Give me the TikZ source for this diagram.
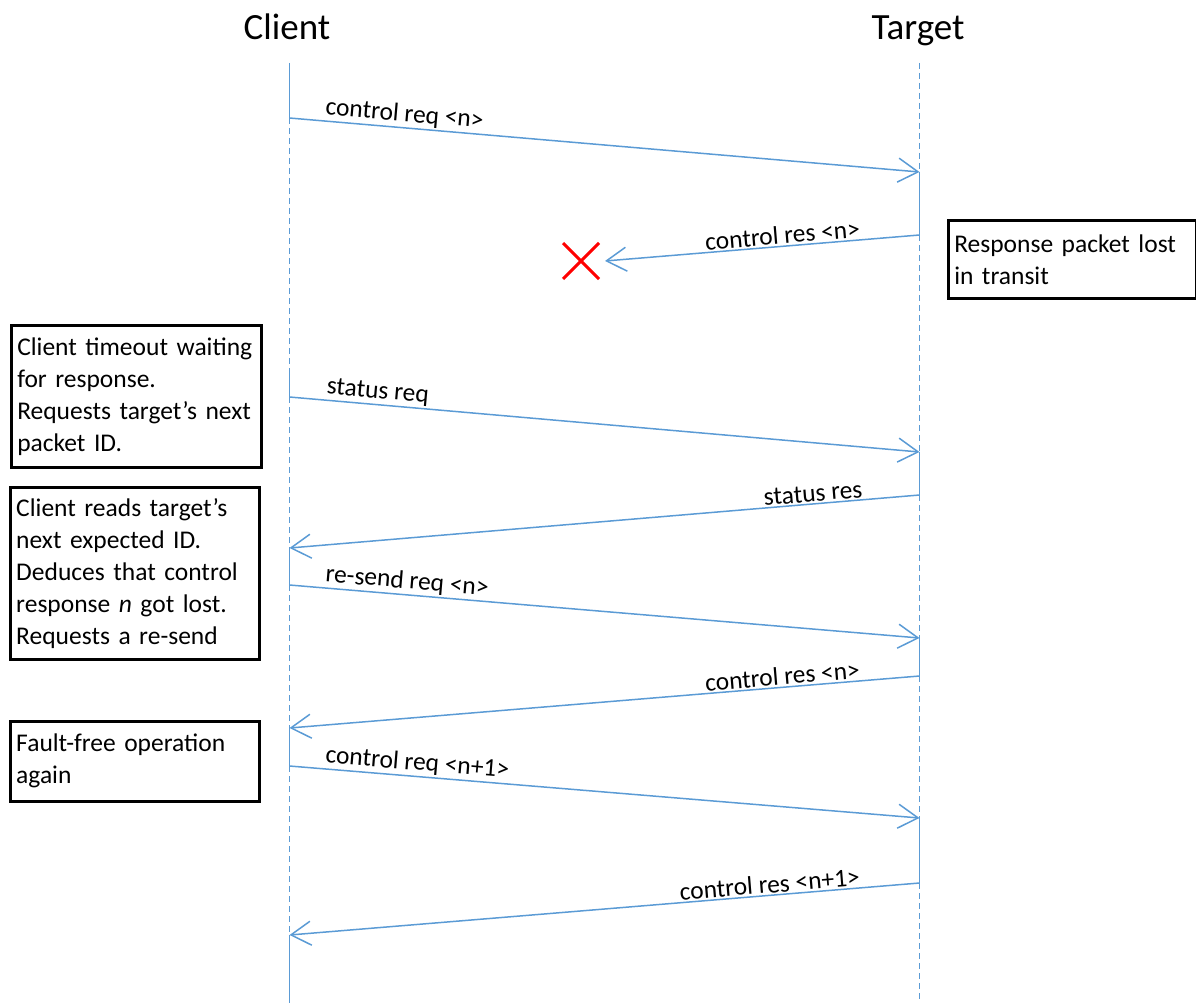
\documentclass[tikz,border=0pt]{standalone}
\usepackage{fontspec}
\setmainfont{Carlito}
\usetikzlibrary{arrows.meta}
\definecolor{lifeblue}{RGB}{91,155,213}
\begin{document}
\begin{tikzpicture}[x=1pt,y=-1pt,
  life/.style={lifeblue, line width=1.5pt},
  lifedash/.style={lifeblue, line width=1.8pt, dash pattern=on 6pt off 4pt},
  msg/.style={lifeblue, line width=1.5pt, -{Straight Barb[length=20pt,width=24pt]}},
  lbl/.style={sloped, inner sep=1.5pt, font=\fontsize{25.5}{30}\selectfont, text=black},
  note/.style={draw=black, line width=2.5pt, align=left, inner xsep=6pt, inner ysep=0pt,
    font=\fontsize{25.5}{32}\selectfont, anchor=north west},
  head/.style={font=\fontsize{37}{44}\selectfont, anchor=base}]
\useasboundingbox (0,0) rectangle (1196,1003);

% headers
\node[head] (client) at (287,40) {Client};
\node[head] (target) at (918,40) {Target};

% lifeline points: client
\coordinate (c0) at (289.5,63);
\coordinate (c1) at (289.5,118);
\coordinate (ca) at (289.5,373);
\coordinate (c3) at (289.5,397);
\coordinate (c4) at (289.5,548);
\coordinate (c5) at (289.5,585);
\coordinate (c6) at (289.5,728);
\coordinate (c7) at (289.5,766);
\coordinate (c8) at (289.5,935);
\coordinate (cend) at (289.5,1003);
% target
\coordinate (t0) at (919.5,63);
\coordinate (t1) at (919.5,172);
\coordinate (t2) at (919.5,235);
\coordinate (t3) at (919.5,452);
\coordinate (t4) at (919.5,495);
\coordinate (t5) at (919.5,638);
\coordinate (t6) at (919.5,676);
\coordinate (t7) at (919.5,818);
\coordinate (t8) at (919.5,883);
\coordinate (tend) at (919.5,1003);
\coordinate (lost) at (605,261);

% client lifeline
\draw[life] (c0) -- (c1);
\draw[lifedash] (c1) -- (ca);
\draw[life] (ca) -- (c3);
\draw[lifedash] (c3) -- (c4);
\draw[life] (c4) -- (c5);
\draw[lifedash] (c5) -- (c6);
\draw[life] (c6) -- (c7);
\draw[lifedash] (c7) -- (c8);
\draw[life] (c8) -- (cend);
% target lifeline
\draw[lifedash] (t0) -- (t1);
\draw[life] (t1) -- (t2);
\draw[lifedash] (t2) -- (t3);
\draw[life] (t3) -- (t4);
\draw[lifedash] (t4) -- (t5);
\draw[life] (t5) -- (t6);
\draw[lifedash] (t6) -- (t7);
\draw[life] (t7) -- (t8);
\draw[lifedash] (t8) -- (tend);

% messages
\draw[msg] (c1) -- node[lbl, pos=0.052, anchor=south west] {control req <n>} (t1);
\draw[msg] (t2) -- node[lbl, pos=0.18, anchor=south east] {control res <n>} (lost);
\draw[msg] (c3) -- node[lbl, pos=0.054, anchor=south west] {status req} (t3);
\draw[msg] (t4) -- node[lbl, pos=0.086, anchor=south east] {status res} (c4);
\draw[msg] (c5) -- node[lbl, pos=0.052, anchor=south west] {re-send req <n>} (t5);
\draw[msg] (t6) -- node[lbl, pos=0.09, anchor=south east] {control res <n>} (c6);
\draw[msg] (c7) -- node[lbl, pos=0.052, anchor=south west] {control req <n+1>} (t7);
\draw[msg] (t8) -- node[lbl, pos=0.09, anchor=south east] {control res <n+1>} (c8);

% lost marker
\draw[red, line width=3pt] (563,243) -- (599,279) (563,279) -- (599,243);

% notes
\node[note, text width=236pt, minimum height=78pt] (lostnote) at (947,219)
  {Response packet lost\\in transit};
\node[note, text width=238pt, minimum height=142pt] (timeout) at (10,324)
  {Client timeout waiting\\for response.\\Requests target’s next\\packet ID.};
\node[note, text width=237pt, minimum height=172pt] (reads) at (9,486)
  {Client reads target’s\\next expected ID.\\Deduces that control\\response \textit{n} got lost.\\Requests a re-send};
\node[note, text width=237pt, minimum height=80pt] (faultfree) at (9,720)
  {Fault-free operation\\again};
\end{tikzpicture}
\end{document}
